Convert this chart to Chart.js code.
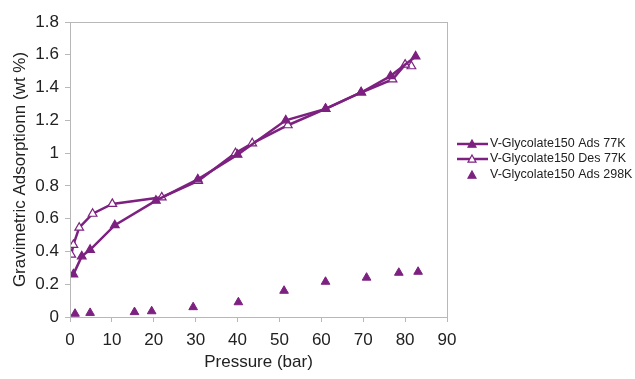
<!DOCTYPE html>
<html>
<head>
<meta charset="utf-8">
<script src="https://cdn.jsdelivr.net/npm/chart.js@4"></script>
<style>
html,body{margin:0;padding:0;background:#fff;}
#wrap{width:635px;height:379px;position:relative;}
</style>
</head>
<body>
<div id="wrap"><canvas id="c" width="635" height="379"></canvas></div>
<script>
const seriesNames = ["V-Glycolate150 Ads 77K", "V-Glycolate150 Des 77K", "V-Glycolate150 Ads 298K"];
const adsPressure = [0.8, 2.8, 4.8, 10.7, 20.5, 30.5, 40, 51.5, 61, 69.5, 76.5, 82.5];
const adsValues   = [0.26, 0.37, 0.41, 0.56, 0.71, 0.84, 0.99, 1.20, 1.27, 1.37, 1.47, 1.59];
const desPressure = [81.5, 80, 77, 69.5, 61, 52, 43.5, 39.5, 30.6, 21.9, 10.1, 5.4, 2.2, 0.8, 0.3];
const desValues   = [1.53, 1.54, 1.45, 1.37, 1.27, 1.17, 1.06, 1.00, 0.83, 0.73, 0.69, 0.63, 0.545, 0.44, 0.38];
const ads298Pressure = [1.2, 4.8, 15.4, 19.5, 29.4, 40.2, 51.1, 61, 70.8, 78.5, 83.1];
const ads298Values   = [0.02, 0.025, 0.03, 0.035, 0.06, 0.09, 0.16, 0.215, 0.24, 0.27, 0.276];
const xTicks = [0, 10, 20, 30, 40, 50, 60, 70, 80, 90];
const yTicks = [0, 0.2, 0.4, 0.6, 0.8, 1, 1.2, 1.4, 1.6, 1.8];
const yTickLabels = ["0", "0.2", "0.4", "0.6", "0.8", "1", "1.2", "1.4", "1.6", "1.8"];

const purple = '#7d2181';
const FONT = '"Liberation Sans", Arial, sans-serif';
const toPts = (xs, ys) => xs.map((x, i) => ({x: x, y: ys[i]}));

const frameAndLegend = {
  id: 'frameAndLegend',
  afterDraw(chart) {
    const ctx = chart.ctx, a = chart.chartArea;
    ctx.save();
    ctx.strokeStyle = '#b8b8b8';
    ctx.lineWidth = 1;
    ctx.strokeRect(a.left + 0.5, a.top + 0.5, a.right - a.left, a.bottom - a.top);
    const rows = [144, 159, 175];
    ctx.font = '12.5px ' + FONT;
    ctx.textBaseline = 'middle';
    chart.data.datasets.forEach((ds, i) => {
      const y = rows[i];
      if (ds.showLine) {
        ctx.strokeStyle = purple; ctx.lineWidth = 2.5;
        ctx.beginPath(); ctx.moveTo(457, y); ctx.lineTo(488, y); ctx.stroke();
      }
      const cx = 472, r = 4;
      ctx.beginPath();
      ctx.moveTo(cx, y - r); ctx.lineTo(cx + r, y + r * 0.8); ctx.lineTo(cx - r, y + r * 0.8); ctx.closePath();
      ctx.fillStyle = ds.pointBackgroundColor; ctx.fill();
      ctx.strokeStyle = purple; ctx.lineWidth = 1.2; ctx.stroke();
      ctx.fillStyle = '#222';
      ctx.fillText(ds.label, 490, y);
    });
    ctx.restore();
  }
};

new Chart(document.getElementById('c'), {
  type: 'scatter',
  data: {
    datasets: [
      {label: seriesNames[0], data: toPts(adsPressure, adsValues), showLine: true,
       borderColor: purple, borderWidth: 2.5, pointStyle: 'triangle', pointRadius: 5,
       pointBackgroundColor: purple, pointBorderColor: purple, pointBorderWidth: 1.2},
      {label: seriesNames[1], data: toPts(desPressure, desValues), showLine: true,
       borderColor: purple, borderWidth: 2.5, pointStyle: 'triangle', pointRadius: 5,
       pointBackgroundColor: '#ffffff', pointBorderColor: purple, pointBorderWidth: 1.2},
      {label: seriesNames[2], data: toPts(ads298Pressure, ads298Values), showLine: false,
       pointStyle: 'triangle', pointRadius: 5,
       pointBackgroundColor: purple, pointBorderColor: purple, pointBorderWidth: 1, backgroundColor: purple, borderColor: purple}
    ]
  },
  options: {
    responsive: false,
    animation: false,
    layout: {padding: {left: 10, right: 188, top: 22, bottom: 0}},
    plugins: {legend: {display: false}, tooltip: {enabled: false}},
    scales: {
      x: {
        type: 'linear', min: 0, max: 90,
        afterBuildTicks: s => { s.ticks = xTicks.map(v => ({value: v})); },
        afterFit: s => { s.height = 62; },
        grid: {drawOnChartArea: false, drawTicks: true, tickLength: 5, color: '#b8b8b8'},
        border: {display: false},
        ticks: {color: '#222', font: {family: FONT, size: 17}, padding: 8, maxRotation: 0},
        title: {display: true, text: 'Pressure (bar)', color: '#222', font: {family: FONT, size: 17}, padding: {top: 0, bottom: 6}}
      },
      y: {
        type: 'linear', min: 0, max: 1.8,
        afterBuildTicks: s => { s.ticks = yTicks.map(v => ({value: v})); },
        afterFit: s => { s.width = 60; },
        grid: {drawOnChartArea: false, drawTicks: true, tickLength: 5, color: '#b8b8b8'},
        border: {display: false},
        ticks: {color: '#222', font: {family: FONT, size: 17}, padding: 6,
                callback: (v) => { const i = yTicks.indexOf(v); return i >= 0 ? yTickLabels[i] : ''; }},
        title: {display: true, text: 'Gravimetric Adsorptionn (wt %)', color: '#222', font: {family: FONT, size: 17}, padding: {top: 0, bottom: 0}}
      }
    }
  },
  plugins: [frameAndLegend]
});
</script>
</body>
</html>
